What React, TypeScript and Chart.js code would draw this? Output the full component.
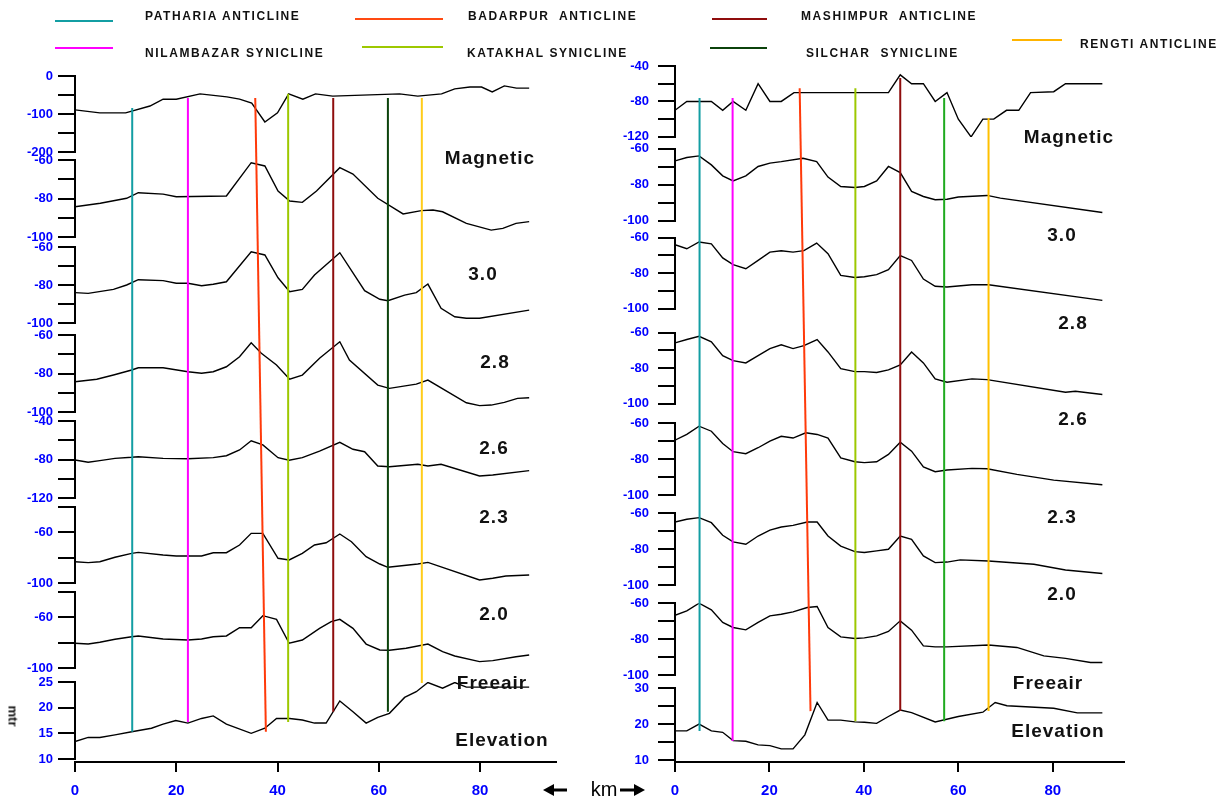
import React, { useEffect, useRef } from 'react';
import { Chart, registerables } from 'chart.js';
Chart.register(...registerables);

const FONT = '"Liberation Sans", Arial, Helvetica, sans-serif';
Chart.defaults.font.family = FONT;

type Pt = [number, number];

// ---------------- LEFT PROFILE (km, value) ----------------
const leftMagnetic: Pt[] = [[0,-89],[4.9,-97],[10,-97],[14.8,-79],[17.4,-61],[20,-61],[24.7,-47],[30,-55],[32.5,-61],[34.9,-71],[37.5,-121],[40,-97],[42.2,-47],[45,-61],[47.5,-47],[50.9,-53],[64.1,-47],[67.7,-53],[72.4,-47],[75,-34],[78,-29],[80.3,-29],[82.4,-42],[84.8,-26],[87.2,-32],[89.7,-32]];
const leftG30: Pt[] = [[0,-84.3],[5,-82.5],[10.2,-79.9],[12.5,-77],[17.4,-77.7],[20,-79.1],[29.9,-78.7],[34.8,-61.4],[37.5,-63.1],[40.1,-76.1],[42.4,-81.3],[44.9,-82],[47.7,-76.1],[52.3,-64],[54.9,-67.3],[59.8,-79.9],[64.8,-88],[68.4,-86.3],[70.7,-86],[72.6,-86.9],[77.3,-92.9],[82.2,-96.4],[84.5,-95.5],[87.1,-92.9],[89.7,-92]];
const leftG28: Pt[] = [[0,-84],[2.6,-84.4],[7.6,-82.3],[10.2,-80],[12.5,-77.2],[17.4,-77.7],[20,-79.1],[22.3,-79.1],[25,-80.4],[27.3,-79.6],[29.9,-78.3],[34.8,-62.5],[37.5,-64.2],[40.1,-76.2],[42.4,-83.5],[44.9,-82.3],[47.3,-74.7],[52.3,-63],[57.2,-83],[60.2,-87.5],[61.8,-88.3],[65.1,-85.3],[67.4,-84],[69.7,-79.5],[72.3,-92.3],[75,-96.7],[77.3,-97.5],[79.9,-97.5],[89.7,-93.2]];
const leftG26: Pt[] = [[0,-84.3],[4.3,-83],[7.6,-80.8],[11.2,-78.2],[12.5,-77],[17.4,-77],[22.3,-79.1],[25,-79.9],[27.3,-79.1],[29.9,-76.5],[32.5,-71.3],[34.8,-64],[36.8,-69.5],[39.8,-75.6],[42.4,-83],[44.9,-80.8],[48.3,-72.1],[52.3,-63.5],[54.2,-73],[59.8,-86],[62.1,-87.7],[67.4,-85.5],[69.7,-83.4],[77.3,-95.2],[79.9,-96.7],[82.2,-96.4],[84.8,-95],[87.4,-92.9],[89.7,-92.6]];
const leftG23: Pt[] = [[0,-80.5],[2.6,-82.9],[4.9,-81.2],[7.9,-78.8],[11.2,-77.7],[12.5,-77.1],[17.4,-78.8],[22.3,-79.2],[27.3,-78.1],[29.9,-76.1],[32.5,-70.1],[34.8,-60.5],[37.1,-64.9],[40.1,-78.1],[42.3,-80.8],[44.9,-78.1],[48.3,-71.2],[52.3,-62.1],[54.9,-69.4],[57.2,-71.9],[59.8,-86.8],[62.1,-87.5],[67.7,-85],[69.7,-86.8],[72.3,-85],[79.9,-97.1],[82.5,-96.1],[89.7,-91.6]];
const leftG20: Pt[] = [[0,-83.2],[2.6,-83.9],[4.9,-83.2],[7.9,-79.7],[11.2,-76.6],[12.5,-75.8],[17.4,-77.9],[20,-78.7],[25,-78.7],[27.3,-76.1],[29.9,-76.1],[32.5,-70],[34.8,-60.8],[37.1,-60.8],[40.1,-80.5],[42.3,-81.8],[44.9,-76.6],[47.3,-70],[49.6,-68.2],[52.3,-61.3],[54.6,-67.4],[57.5,-79.2],[60.2,-85],[61.8,-87.6],[67.7,-85],[69.7,-83.7],[79.9,-97.6],[82.5,-96.3],[85.1,-94.5],[89.7,-93.7]];
const leftFreeair: Pt[] = [[0,-80.5],[2.6,-81.1],[4.9,-79.7],[7.9,-77.3],[11.2,-75.3],[12.5,-74.7],[17.4,-77.1],[22.3,-77.9],[25,-77.1],[27.3,-75.3],[29.9,-74.7],[32.5,-68.2],[34.8,-68.2],[37.1,-58.7],[39.8,-61.6],[42.3,-80.5],[44.9,-77.9],[48.3,-68.7],[50.6,-63.4],[52.3,-61.6],[54.9,-68.7],[57.5,-81.1],[60.2,-85.8],[62.1,-86],[65.4,-84.4],[69.7,-81.1],[72.6,-87.1],[75,-90.5],[79.9,-95],[82.5,-94.2],[87.1,-91.1],[89.7,-89.7]];
const leftElevation: Pt[] = [[0,13.4],[2.6,14.2],[4.9,14.2],[7.9,14.7],[11.2,15.3],[15.1,16],[17.4,16.8],[19.9,17.5],[22.3,17],[25,17.9],[27.3,18.4],[29.9,16.8],[34.8,15],[37.5,16],[39.8,17.9],[42.4,17.9],[44.9,17.6],[47.3,17],[49.6,17],[52.3,21.3],[54.9,19.2],[57.5,17],[59.8,18.1],[62.1,18.9],[65.1,22],[67.4,23.1],[69.7,24.9],[72.6,23.8],[75,24.9],[77.3,24],[89.7,24]];

// ---------------- RIGHT PROFILE (km, value) ----------------
const rightMagnetic: Pt[] = [[0,-90],[2.5,-80],[7.7,-80],[10.1,-90],[12.3,-80],[15,-90],[17.6,-60],[20.1,-80],[22.5,-80],[25.2,-70],[45.2,-70],[47.7,-50],[50.1,-60],[52.6,-60],[55.1,-80],[57.6,-70],[60,-100],[62.7,-120],[65.2,-100],[67.5,-100],[70.2,-90],[72.8,-90],[75.3,-70],[80.2,-69],[82.7,-60],[90.5,-60]];
const rightG30: Pt[] = [[0,-66.7],[2.5,-64.8],[5.1,-63.9],[7.7,-68.9],[10.1,-75],[12.3,-77.8],[15,-75],[17.6,-69.8],[20.1,-67.9],[22.5,-67.1],[27.1,-65.2],[30,-67.1],[32.4,-75.7],[35.1,-80.9],[38.1,-81.5],[40.1,-80.9],[42.7,-77.8],[45.2,-69.8],[47.7,-73.2],[50.1,-83.7],[52.6,-86.5],[55.1,-88.3],[57.6,-88],[60,-86.8],[66.1,-85.9],[68.9,-87.4],[90.5,-95.4]];
const rightG28: Pt[] = [[0,-63.9],[2.5,-66.2],[5.1,-62.4],[7.7,-63.4],[10.1,-71.4],[12.3,-75.2],[15,-77.5],[17.6,-72.8],[20.1,-68.1],[22.5,-67.3],[25,-68.1],[27.3,-67.3],[30,-63],[32.4,-69],[35.1,-81.2],[38.1,-82.4],[40.1,-82],[42.7,-80.8],[45.2,-78],[47.7,-70.1],[50.1,-72.8],[52.6,-83.3],[55.1,-87.4],[57.6,-87.8],[62.9,-86.5],[66.4,-86.5],[90.5,-95.3]];
const rightG26: Pt[] = [[0,-65.8],[2.5,-63.9],[5.1,-62.1],[7.7,-65.2],[10.1,-73],[12.3,-75.8],[15,-77.1],[17.6,-73],[20.1,-69],[22.5,-66.9],[25,-69],[27.3,-67.3],[30.1,-63.9],[32.4,-70.9],[35.1,-80.3],[38.1,-82],[40.1,-82],[42.7,-82.5],[45.2,-81],[47.7,-78.2],[50.1,-70.9],[52.6,-77.1],[55.1,-86.1],[57.6,-88],[62.9,-86.1],[66.1,-86.5],[82.7,-93.6],[84.8,-93.1],[90.5,-94.9]];
const rightG23: Pt[] = [[0,-69.3],[2.5,-66.1],[5.1,-61.5],[7.7,-64.3],[10.1,-71.1],[12.3,-75.7],[15,-76.8],[17.6,-73.5],[20.1,-69.8],[22.5,-67.1],[25,-68.1],[27.7,-65.2],[30.1,-66.1],[32.4,-68.1],[35.1,-79.1],[38.1,-81.3],[40.1,-81.8],[42.7,-81.3],[45.2,-77.2],[47.7,-70.4],[50.1,-75.4],[52.6,-84.1],[55.1,-86.8],[57.6,-85.9],[62.9,-85],[66.1,-85.2],[72.4,-88.3],[80.2,-91.5],[90.5,-94.1]];
const rightG20: Pt[] = [[0,-64.8],[2.5,-63.3],[5.1,-62.4],[7.7,-65.2],[10.1,-72.2],[12.3,-75.9],[15,-77.2],[17.6,-72.6],[20.1,-69.3],[22.5,-67.6],[25,-66.7],[28,-64.8],[30.1,-64.8],[32.4,-72.6],[35.1,-78.2],[38.1,-81.3],[40.1,-81.8],[42.7,-80.9],[45.2,-80],[47.7,-72.6],[50.1,-74.4],[52.6,-83.7],[55.1,-87.4],[57.6,-87.1],[60.4,-85.9],[66.4,-86.5],[76,-88.3],[82.7,-91.5],[90.5,-93.5]];
const rightFreeair: Pt[] = [[0,-66.7],[2.5,-64.3],[5.1,-60],[7.7,-63.7],[10.1,-70.7],[12.3,-73.5],[15,-74.8],[17.6,-70.7],[20.1,-67],[22.5,-66.1],[25,-64.8],[28,-62.4],[30.1,-61.8],[32.4,-73.5],[35.1,-78.7],[38.1,-79.6],[40.1,-79.3],[42.7,-78.2],[45.2,-75.7],[47.7,-69.8],[50.1,-75],[52.6,-83.7],[55.1,-84.3],[57.6,-84.3],[66.4,-83.2],[72.4,-84.6],[78.1,-89.3],[82.7,-90.7],[88,-93],[90.5,-93]];
const rightElevation: Pt[] = [[0,18.1],[2.5,18.1],[5.1,20],[7.7,18.1],[10.1,17.7],[12.3,15.4],[15,15.2],[17.6,14.2],[20.1,14],[22.5,13.1],[25,13.1],[27.5,17],[30.1,26],[32.4,21.1],[35.1,21.1],[38.1,20.6],[40.1,20.5],[42.7,20.2],[45.2,22.1],[47.7,23.9],[50.1,23.2],[55.1,20.6],[60,22.1],[65.2,23.3],[67.8,26],[70.3,25.1],[80.2,24.4],[85.2,23.1],[90.5,23.1]];

// ---------------- AXIS RANGES / TICK LABELS ----------------
// [min, max, step]
const leftRanges: [number, number, number][] = [[-200,0,50],[-100,-60,10],[-100,-60,10],[-100,-60,10],[-120,-40,20],[-100,-40,20],[-100,-40,20],[10,25,5]];
const leftTickLabels: number[][] = [[0,-100,-200],[-60,-80,-100],[-60,-80,-100],[-60,-80,-100],[-40,-80,-120],[-60,-100],[-60,-100],[10,15,20,25]];
const rightRanges: [number, number, number][] = [[-120,-40,20],[-100,-60,10],[-100,-60,10],[-100,-60,10],[-100,-60,10],[-100,-60,10],[-100,-60,10],[10,30,5]];
const rightTickLabels: number[][] = [[-40,-80,-120],[-60,-80,-100],[-60,-80,-100],[-60,-80,-100],[-60,-80,-100],[-60,-80,-100],[-60,-80,-100],[10,20,30]];
const xTickValues = [0, 20, 40, 60, 80];

// ---------------- STRUCTURES (fold axes) ----------------
const structureNames = ['Patharia anticline','Nilambazar syncline','Badarpur anticline','Katakhal syncline','Mashimpur anticline','Silchar syncline','Rengti anticline'];
const leftStructKmTop = [11.3, 22.3, 35.6, 42.1, 51.0, 61.8, 68.5];
const leftStructKmBottom = [11.3, 22.3, 37.7, 42.1, 51.0, 61.8, 68.5];
const leftStructTopMag = [-84, -58, -58, -47, -58, -58, -58];
const leftStructBottomElev = [15.3, 17.2, 15.3, 17.2, 19.2, 19.2, 24.8];
const leftStructColors = ['#139ea3', '#ff00ff', '#ff3a0a', '#9dc800', '#8f0d0d', '#0b420b', '#ffcc1a'];
const rightStructKmTop = [5.2, 12.2, 26.4, 38.2, 47.7, 57.0, 66.4];
const rightStructKmBottom = [5.2, 12.2, 28.7, 38.2, 47.7, 57.0, 66.4];
const rightStructTopMag = [-76, -76, -65, -65, -53.5, -76, -98.6];
const rightStructBottomElev = [18.1, 15.3, 23.6, 20.8, 23.6, 20.8, 23.6];
const rightStructColors = ['#139ea3', '#ff00ff', '#ff3a0a', '#9dc800', '#8f0d0d', '#1faa1f', '#ffc000'];

// ---------------- LAYOUT ----------------
interface Panel {
  profiles: Pt[][];
  ranges: [number, number, number][];
  labels: number[][];
  segs: number[];
  gaps: number[];
  endGap: number;
  padding: { left: number; right: number; top: number; bottom: number };
  tickLen: number;
  tickPad: number;
  kmTop: number[]; kmBottom: number[]; topMag: number[]; bottomElev: number[]; colors: string[];
}

const AXIS_W = 62;

const LEFT: Panel = {
  profiles: [leftMagnetic, leftG30, leftG28, leftG26, leftG23, leftG20, leftFreeair, leftElevation],
  ranges: leftRanges, labels: leftTickLabels,
  segs: [76, 77, 76, 77, 77, 76, 76, 77],
  gaps: [8, 10, 12, 9, 9, 9, 14],
  endGap: 3,
  padding: { left: 75 - AXIS_W, right: 44, top: 76, bottom: 0 },
  tickLen: 17, tickPad: 5,
  kmTop: leftStructKmTop, kmBottom: leftStructKmBottom, topMag: leftStructTopMag, bottomElev: leftStructBottomElev, colors: leftStructColors,
};
const RIGHT: Panel = {
  profiles: [rightMagnetic, rightG30, rightG28, rightG26, rightG23, rightG20, rightFreeair, rightElevation],
  ranges: rightRanges, labels: rightTickLabels,
  segs: [71, 72, 71, 71, 72, 72, 72, 72],
  gaps: [12, 17, 24, 20, 18, 18, 13],
  endGap: 2,
  padding: { left: 75 - AXIS_W, right: 106.4, top: 66, bottom: 0 },
  tickLen: 17, tickPad: 9,
  kmTop: rightStructKmTop, kmBottom: rightStructKmBottom, topMag: rightStructTopMag, bottomElev: rightStructBottomElev, colors: rightStructColors,
};

function makeConfig(p: Panel): any {
  const scales: any = {
    x: {
      type: 'linear', position: 'bottom', min: 0, max: 95,
      afterFit: (s: any) => { s.height = 40; },
      afterBuildTicks: (s: any) => { s.ticks = xTickValues.map((v) => ({ value: v })); },
      ticks: { includeBounds: false, color: '#0000ff', font: { size: 15, weight: 'bold' }, padding: 10, maxRotation: 0 },
      grid: { drawOnChartArea: false, drawTicks: true, tickLength: 10, color: '#000', lineWidth: 2 },
      border: { display: true, color: '#000', width: 2 },
    },
  };
  const datasets: any[] = [];
  let w = 1000;
  p.profiles.forEach((prof, i) => {
    if (i > 0) {
      scales['gap' + i] = { type: 'linear', display: false, position: 'left', stack: 's', stackWeight: p.gaps[i - 1], weight: w-- };
    }
    const [min, max, step] = p.ranges[i];
    const lbl = p.labels[i];
    scales['y' + i] = {
      type: 'linear', position: 'left', stack: 's', stackWeight: p.segs[i], weight: w--,
      min, max,
      afterFit: (s: any) => { s.width = AXIS_W; },
      ticks: {
        stepSize: step, autoSkip: false, includeBounds: false, color: '#0000ff',
        font: { size: 13, weight: 'bold' }, padding: p.tickPad,
        callback: (v: any) => (lbl.some((l) => Math.abs(l - v) < 1e-6) ? String(v) : ''),
      },
      grid: { drawOnChartArea: false, drawTicks: true, tickLength: p.tickLen, color: '#000', lineWidth: 2 },
      border: { display: true, color: '#000', width: 2 },
    };
    datasets.push({
      data: prof.map(([x, y]) => ({ x, y })),
      xAxisID: 'x', yAxisID: 'y' + i,
      borderColor: '#000', borderWidth: 1.4, pointRadius: 0, tension: 0, fill: false,
    });
  });
  scales.gapEnd = { type: 'linear', display: false, position: 'left', stack: 's', stackWeight: p.endGap, weight: w-- };

  const structPlugin = {
    id: 'structures',
    afterDatasetsDraw(chart: any) {
      const { ctx } = chart;
      const xs = chart.scales.x;
      const top = chart.scales.y0;
      const bot = chart.scales.y7;
      p.kmTop.forEach((k, i) => {
        ctx.save();
        ctx.strokeStyle = p.colors[i];
        ctx.lineWidth = 2;
        ctx.beginPath();
        ctx.moveTo(xs.getPixelForValue(k), top.getPixelForValue(p.topMag[i]));
        ctx.lineTo(xs.getPixelForValue(p.kmBottom[i]), bot.getPixelForValue(p.bottomElev[i]));
        ctx.stroke();
        ctx.restore();
      });
    },
  };

  return {
    type: 'line',
    data: { datasets },
    options: {
      responsive: false, animation: false, events: [],
      layout: { padding: p.padding },
      plugins: { legend: { display: false }, tooltip: { enabled: false }, title: { display: false } },
      scales,
    },
    plugins: [structPlugin],
  };
}

const legendItems = [
  { text: 'PATHARIA ANTICLINE', color: '#139ea3', x1: 55, x2: 113, ly: 21, tx: 145, ty: 16 },
  { text: 'BADARPUR  ANTICLINE', color: '#ff4a12', x1: 355, x2: 443, ly: 19, tx: 468, ty: 16 },
  { text: 'MASHIMPUR  ANTICLINE', color: '#8f0d0d', x1: 712, x2: 767, ly: 19, tx: 801, ty: 16 },
  { text: 'NILAMBAZAR SYNICLINE', color: '#ff00ff', x1: 55, x2: 113, ly: 48, tx: 145, ty: 53 },
  { text: 'KATAKHAL SYNICLINE', color: '#9dc800', x1: 362, x2: 443, ly: 47, tx: 467, ty: 53 },
  { text: 'SILCHAR  SYNICLINE', color: '#0b420b', x1: 710, x2: 767, ly: 48, tx: 806, ty: 53 },
  { text: 'RENGTI ANTICLINE', color: '#ffb400', x1: 1012, x2: 1062, ly: 40, tx: 1080, ty: 44 },
];

const panelLabels = [
  { t: 'Magnetic', x: 490, y: 157 }, { t: '3.0', x: 483, y: 273 }, { t: '2.8', x: 495, y: 361 },
  { t: '2.6', x: 494, y: 447 }, { t: '2.3', x: 494, y: 516 }, { t: '2.0', x: 494, y: 613 },
  { t: 'Freeair', x: 492, y: 682 }, { t: 'Elevation', x: 502, y: 739 },
  { t: 'Magnetic', x: 1069, y: 136 }, { t: '3.0', x: 1062, y: 234 }, { t: '2.8', x: 1073, y: 322 },
  { t: '2.6', x: 1073, y: 418 }, { t: '2.3', x: 1062, y: 516 }, { t: '2.0', x: 1062, y: 593 },
  { t: 'Freeair', x: 1048, y: 682 }, { t: 'Elevation', x: 1058, y: 730 },
];

export default function App() {
  const leftRef = useRef<HTMLCanvasElement>(null);
  const rightRef = useRef<HTMLCanvasElement>(null);
  useEffect(() => {
    const c1 = new Chart(leftRef.current as HTMLCanvasElement, makeConfig(LEFT));
    const c2 = new Chart(rightRef.current as HTMLCanvasElement, makeConfig(RIGHT));
    return () => { c1.destroy(); c2.destroy(); };
  }, []);

  return (
    <div style={{ position: 'absolute', left: 0, top: 0, width: 1230, height: 802, background: '#fff', fontFamily: FONT, overflow: 'hidden' }}>
      <canvas ref={leftRef} width={600} height={802} style={{ position: 'absolute', left: 0, top: 0 }} />
      <canvas ref={rightRef} width={630} height={802} style={{ position: 'absolute', left: 600, top: 0 }} />
      {legendItems.map((it, i) => (
        <React.Fragment key={i}>
          <div style={{ position: 'absolute', left: it.x1, top: it.ly - 1, width: it.x2 - it.x1, height: 1.5, background: it.color }} />
          <div style={{ position: 'absolute', left: it.tx, top: it.ty, transform: 'translateY(-50%)', fontSize: 12, fontWeight: 'bold', letterSpacing: 1.6, whiteSpace: 'pre', color: '#111', lineHeight: 1 }}>{it.text}</div>
        </React.Fragment>
      ))}
      {panelLabels.map((l, i) => (
        <div key={i} style={{ position: 'absolute', left: l.x, top: l.y, transform: 'translate(-50%,-50%)', fontSize: 19, fontWeight: 'bold', letterSpacing: 1, color: '#111', lineHeight: 1, whiteSpace: 'pre' }}>{l.t}</div>
      ))}
      <div style={{ position: 'absolute', left: 13, top: 716, transform: 'translate(-50%,-50%) rotate(90deg)', fontSize: 13, fontWeight: 'bold', color: '#111', lineHeight: 1 }}>mtr</div>
      <svg style={{ position: 'absolute', left: 540, top: 778 }} width={110} height={24}>
        <line x1={552 - 540} y1={12} x2={567 - 540} y2={12} stroke="#000" strokeWidth={3} />
        <polygon points={`${543 - 540},12 ${554 - 540},6 ${554 - 540},18`} fill="#000" />
        <line x1={620 - 540} y1={12} x2={636 - 540} y2={12} stroke="#000" strokeWidth={3} />
        <polygon points={`${645 - 540},12 ${634 - 540},6 ${634 - 540},18`} fill="#000" />
      </svg>
      <div style={{ position: 'absolute', left: 604, top: 789, transform: 'translate(-50%,-50%)', fontSize: 20, color: '#000', lineHeight: 1 }}>km</div>
    </div>
  );
}
